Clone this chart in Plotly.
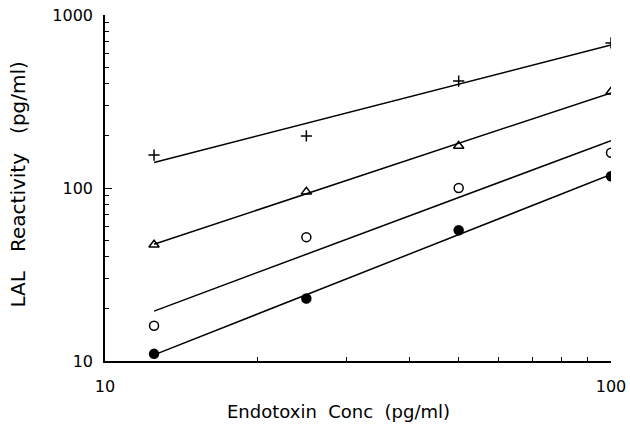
import numpy as np
import plotly.graph_objects as go

# Data
conc = [12.5, 25, 50, 100]
plus_vals = [155, 200, 415, 690]
tri_vals = [47, 95, 175, 360]
open_vals = [16, 52, 100, 160]
filled_vals = [11, 23, 57, 117]

x_ticks = [10, 100]
y_ticks = [10, 100, 1000]
x_minor = [20, 30, 40, 50, 60, 70, 80, 90]
y_minor = [20, 30, 40, 50, 60, 70, 80, 90, 200, 300, 400, 500, 600, 700, 800, 900]

series = [
    (plus_vals, "cross-thin", "+", 8),
    (tri_vals, "triangle-up-open", "triangle", 9),
    (open_vals, "circle-open", "open circle", 9),
    (filled_vals, "circle", "filled circle", 9),
]

FONT = "DejaVu Sans"
fig = go.Figure()

lx = np.log10(conc)
for vals, sym, name, msize in series:
    ly = np.log10(vals)
    slope, inter = np.polyfit(lx, ly, 1)
    fit = 10 ** (inter + slope * lx)
    fig.add_trace(go.Scatter(
        x=conc, y=fit, mode="lines",
        line=dict(color="black", width=1.5),
        showlegend=False, hoverinfo="skip"))
    fig.add_trace(go.Scatter(
        x=conc, y=vals, mode="markers", name=name,
        marker=dict(symbol=sym, size=msize, color="black",
                    line=dict(color="black", width=1.5)),
        showlegend=False))

def axis_common(minor_vals):
    return dict(
        showline=True, linecolor="black", linewidth=1.5,
        ticks="inside", ticklen=7, tickwidth=1.2, tickcolor="black",
        showgrid=False, zeroline=False, mirror=False, automargin=False,
        tickfont=dict(family=FONT, size=16, color="black"),
        minor=dict(tickvals=minor_vals, ticks="inside", ticklen=4,
                   tickwidth=1.2, tickcolor="black", showgrid=False),
    )

fig.update_xaxes(type="log", range=[1, 2], tickvals=x_ticks,
                 ticktext=[str(v) for v in x_ticks],
                 ticklabelstandoff=10, **axis_common(x_minor))
fig.update_yaxes(type="log", range=[1, 3], tickvals=y_ticks,
                 ticktext=[str(v) for v in y_ticks],
                 ticklabelstandoff=7, **axis_common(y_minor))

fig.add_annotation(text="Endotoxin\u00a0\u00a0Conc\u00a0\u00a0(pg/ml)",
                   xref="paper", yref="paper", x=0.462, y=-0.147,
                   xanchor="center", yanchor="middle", showarrow=False,
                   font=dict(family=FONT, size=18, color="black"))
fig.add_annotation(text="LAL\u00a0\u00a0\u00a0Reactivity\u00a0\u00a0\u00a0(pg/ml)",
                   xref="paper", yref="paper", x=-0.172, y=0.51,
                   xanchor="center", yanchor="middle", showarrow=False,
                   textangle=-90,
                   font=dict(family=FONT, size=20, color="black"))

fig.update_layout(
    width=630, height=437,
    margin=dict(l=105, r=19, t=15, b=76, autoexpand=False),
    paper_bgcolor="white", plot_bgcolor="white",
    showlegend=False,
)

fig.write_html("out.html",
               config={"displayModeBar": False},
               post_script="document.body.style.margin='0';"
                           "document.body.style.overflow='hidden';")
